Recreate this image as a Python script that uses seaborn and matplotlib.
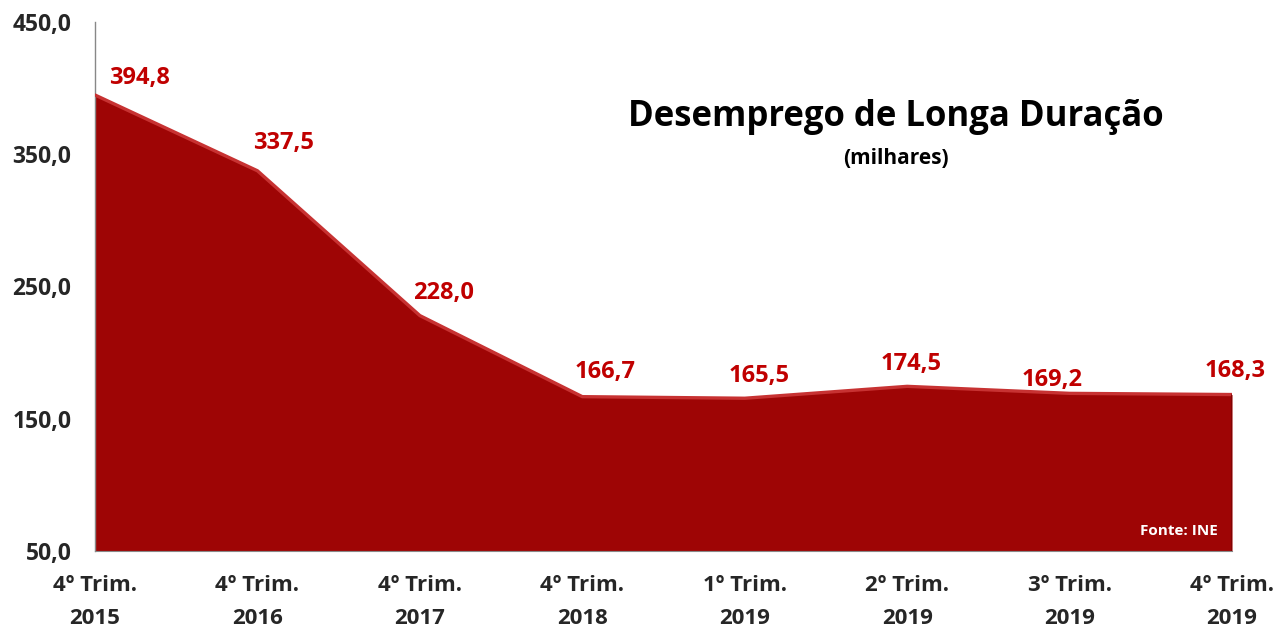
"""
Desemprego de longa duracao - area chart
"""
# %% IMPORT LIBRARIES
import numpy as np
import pandas as pd
import matplotlib
matplotlib.use("Agg")
import matplotlib.pyplot as plt
import seaborn as sns

sns.set_style("white")
plt.rcParams['font.family'] = ['Open Sans', 'DejaVu Sans']
plt.rcParams['font.weight'] = 'bold'

# %% DATA
periods = ["4º Trim.\n2015", "4º Trim.\n2016", "4º Trim.\n2017", "4º Trim.\n2018",
           "1º Trim.\n2019", "2º Trim.\n2019", "3º Trim.\n2019", "4º Trim.\n2019"]
values = [394.8, 337.5, 228.0, 166.7, 165.5, 174.5, 169.2, 168.3]
value_labels = ["394,8", "337,5", "228,0", "166,7", "165,5", "174,5", "169,2", "168,3"]
y_ticks = [50, 150, 250, 350, 450]
y_tick_labels = ["50,0", "150,0", "250,0", "350,0", "450,0"]

# label placement (pixels, right / up from the point), as placed by hand in the original
label_offsets = [(45, 17), (26, 28), (24, 23), (23, 25), (14, 22), (4, 22), (-18, 13), (3, 24)]

df = pd.DataFrame({"pos": np.arange(len(periods)), "value": values})

# %% PLOT
fig = plt.figure(figsize=(12.87, 6.3), dpi=100)
ax = fig.add_axes([0.0738, 0.1254, 0.9573 - 0.0738, 0.9651 - 0.1254])

ax.fill_between(df["pos"], 50, df["value"], color="#9E0505", linewidth=0, zorder=2)
sns.lineplot(data=df, x="pos", y="value", color="#C73232", linewidth=2.4, ax=ax, zorder=3)
# slight shadow on the right end
ax.plot([df["pos"].iloc[-1]] * 2, [50, df["value"].iloc[-1]], color="#7A0303",
        linewidth=1.2, zorder=3)

for x, y, lab, off in zip(df["pos"], df["value"], value_labels, label_offsets):
    ax.annotate(lab, (x, y), xytext=off, textcoords="offset pixels",
                ha="center", va="center", color="#C00000", fontsize=17,
                fontweight="bold", annotation_clip=False)

ax.set_xlim(0, len(periods) - 1)
ax.set_ylim(50, 450)
ax.set_yticks(y_ticks)
ax.set_yticklabels(y_tick_labels, fontsize=16.5, fontweight="bold")
ax.set_xticks(df["pos"])
ax.set_xticklabels(periods, fontsize=16, fontweight="bold", linespacing=1.8)
ax.tick_params(axis="y", length=0, pad=17)
ax.tick_params(axis="x", length=0, pad=17)
ax.set_xlabel("")
ax.set_ylabel("")

for side in ["top", "right"]:
    ax.spines[side].set_visible(False)
ax.spines["left"].set_color("#888888")
ax.spines["left"].set_linewidth(1)
ax.spines["bottom"].set_color("#888888")
ax.spines["bottom"].set_linewidth(0.8)

fig.text(0.696, 0.814, "Desemprego de Longa Duração", ha="center", va="center",
         fontsize=25, fontweight="bold", color="black")
fig.text(0.696, 0.749, "(milhares)", ha="center", va="center",
         fontsize=15, fontweight="bold", color="black")
fig.text(0.9464, 0.157, "Fonte: INE", ha="right", va="center",
         fontsize=11, fontweight="bold", color="white")

plt.savefig("out.png", dpi=100)
